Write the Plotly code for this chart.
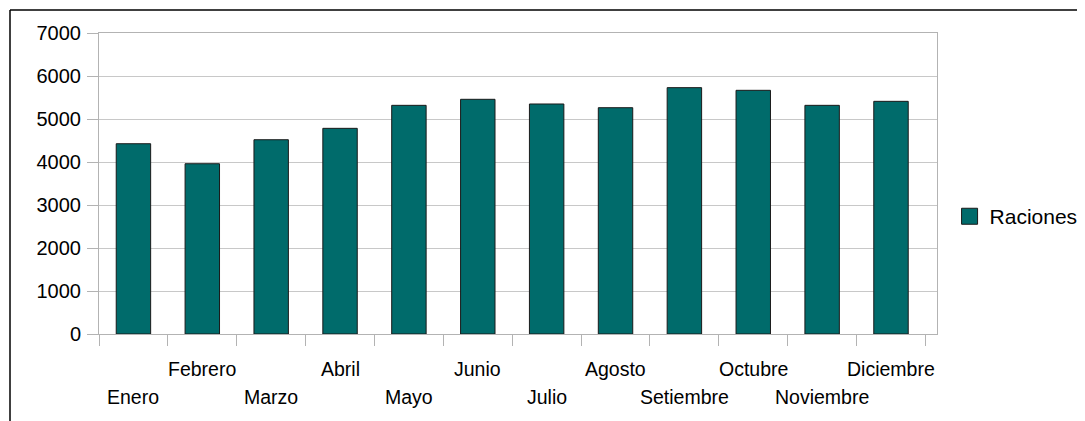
import plotly.graph_objects as go

meses = ["Enero", "Febrero", "Marzo", "Abril", "Mayo", "Junio", "Julio",
         "Agosto", "Setiembre", "Octubre", "Noviembre", "Diciembre"]
raciones = [4425, 3960, 4518, 4783, 5318, 5458, 5349, 5263, 5729, 5667, 5318, 5411]
y_ticks = [0, 1000, 2000, 3000, 4000, 5000, 6000, 7000]

BAR_COLOR = "#006b6b"
fig = go.Figure()
fig.add_trace(go.Bar(
    x=meses, y=raciones, name="Raciones", showlegend=False, legendgroup="r",
    marker=dict(color=BAR_COLOR, line=dict(color="#1a1a1a", width=1)),
))
# legend entry with a larger square swatch
fig.add_trace(go.Scatter(
    x=[None], y=[None], mode="markers", name="Raciones", legendgroup="r",
    marker=dict(symbol="square", size=16, color=BAR_COLOR,
                line=dict(color="#1a1a1a", width=1)),
))

# page is offset by the 8px body margin
W, H = 1077, 413
L, R, T, B = 91, 148, 25, 87
pw, ph = W - L - R, H - T - B

def px_x(p):
    return (p - L) / pw

def px_y(p):
    return (H - B - p) / ph

# staggered category labels as annotations on the category axis
annotations = []
for i, m in enumerate(meses):
    yy = px_y(389) if i % 2 == 0 else px_y(361)
    annotations.append(dict(
        x=m, xref="x", y=yy, yref="paper", text=m, showarrow=False,
        xanchor="center", yanchor="middle",
        font=dict(size=19.5, color="black"),
    ))

fig.update_layout(
    width=W, height=H,
    margin=dict(l=L, r=R, t=T, b=B, autoexpand=False),
    paper_bgcolor="white", plot_bgcolor="white",
    font=dict(family="Liberation Sans, Arial, sans-serif", size=19, color="black"),
    bargap=0.5,
    showlegend=True,
    legend=dict(x=1.015, y=0.39, xanchor="left", yanchor="middle",
                font=dict(size=21), bgcolor="rgba(0,0,0,0)",
                itemsizing="trace"),
    xaxis=dict(
        tickmode="array", tickvals=meses, showticklabels=False,
        tickson="boundaries", ticks="outside", ticklen=11, tickcolor="#b3b3b3",
        showline=True, linecolor="#b3b3b3", mirror=True, automargin=False,
        showgrid=False,
    ),
    yaxis=dict(
        range=[0, 7000], tickvals=y_ticks, automargin=False,
        ticks="outside", ticklen=11, tickcolor="#b3b3b3",
        showline=True, linecolor="#b3b3b3", mirror=True,
        showgrid=True, gridcolor="#c8c8c8", zeroline=False,
        tickfont=dict(size=20), ticklabelstandoff=2,
    ),
    annotations=annotations,
    shapes=[
        dict(type="line", xref="paper", yref="paper",
             x0=px_x(2), x1=px_x(W + 5), y0=px_y(2), y1=px_y(2),
             line=dict(color="black", width=1.5)),
        dict(type="line", xref="paper", yref="paper",
             x0=px_x(2), x1=px_x(2), y0=px_y(2), y1=px_y(H + 5),
             line=dict(color="black", width=1.5)),
    ],
)

fig.write_html("out.html")
